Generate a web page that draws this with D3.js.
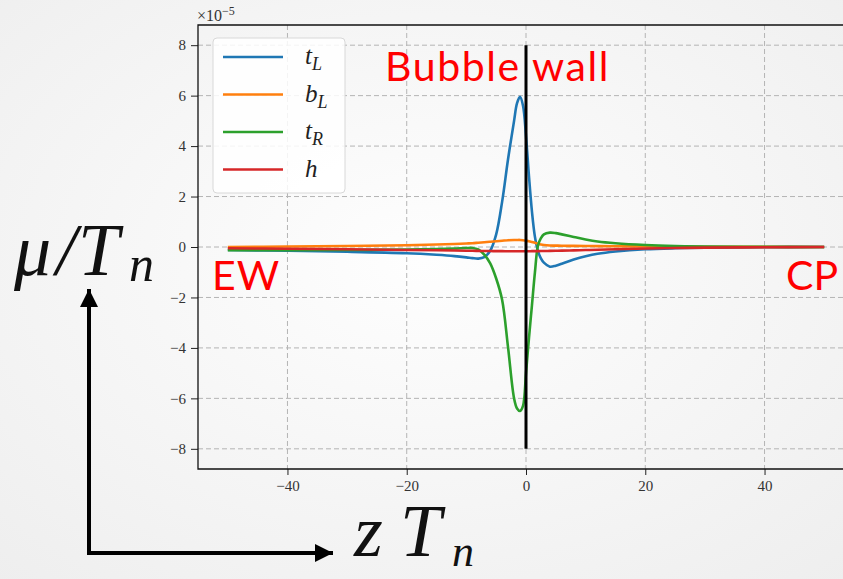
<!DOCTYPE html>
<html>
<head>
<meta charset="utf-8">
<script src="https://cdn.jsdelivr.net/npm/d3@7"></script>
<style>
  body { margin: 0; background: #f4f4f4; }
  svg { display: block; }
</style>
</head>
<body>
<div id="chart"></div>
<script>
// z T_n sample positions
const zs = [-50, -40, -30, -20, -15, -12, -10, -9, -8, -7, -6, -5, -4, -3, -2, -1.5, -1, -0.5, 0,
            0.5, 1, 1.5, 2, 2.5, 3, 4, 5, 6, 8, 10, 12, 15, 20, 25, 30, 40, 50];

// mu / T_n, in units of 1e-5
const tL = [-0.12, -0.15, -0.19, -0.25, -0.31, -0.36, -0.41, -0.44, -0.46, -0.40, -0.15, 0.5, 1.8, 3.5, 5.0, 5.7, 5.95, 5.6, 4.4,
            2.8, 1.4, 0.4, -0.15, -0.45, -0.62, -0.78, -0.74, -0.66, -0.5, -0.37, -0.27, -0.18, -0.09, -0.05, -0.03, -0.01, 0];
const bL = [0, 0.02, 0.04, 0.07, 0.1, 0.12, 0.14, 0.15, 0.17, 0.19, 0.21, 0.23, 0.25, 0.27, 0.28, 0.28, 0.28, 0.27, 0.25,
            0.23, 0.2, 0.17, 0.13, 0.1, 0.08, 0.06, 0.055, 0.05, 0.045, 0.04, 0.035, 0.03, 0.02, 0.015, 0.01, 0.005, 0];
const tR = [-0.13, -0.13, -0.12, -0.1, -0.08, -0.06, -0.04, -0.04, -0.1, -0.3, -0.65, -1.25, -2.1, -4.0, -6.0, -6.4, -6.5, -6.3, -5.0,
            -3.6, -2.3, -1.0, 0.05, 0.35, 0.5, 0.57, 0.55, 0.5, 0.4, 0.3, 0.22, 0.15, 0.08, 0.04, 0.02, 0.01, 0];
const hh = [-0.05, -0.07, -0.09, -0.12, -0.13, -0.14, -0.15, -0.15, -0.155, -0.16, -0.16, -0.165, -0.165, -0.17, -0.17, -0.17, -0.17, -0.17, -0.17,
            -0.17, -0.165, -0.165, -0.165, -0.16, -0.16, -0.155, -0.15, -0.145, -0.135, -0.12, -0.11, -0.09, -0.06, -0.04, -0.025, -0.01, 0];

const seriesNames = [["t", "L"], ["b", "L"], ["t", "R"], ["h", ""]];
const seriesValues = [tL, bL, tR, hh];
const colors = ["#1f77b4", "#ff7f0e", "#2ca02c", "#d62728"];

const xTicks = [-40, -20, 0, 20, 40];
const yTicks = [-8, -6, -4, -2, 0, 2, 4, 6, 8];
const wallRange = [-8, 8];

const W = 843, H = 579;
const svg = d3.select("#chart").append("svg").attr("width", W).attr("height", H);
const defs = svg.append("defs");

const bg = defs.append("radialGradient").attr("id", "bg")
    .attr("cx", "50%").attr("cy", "45%").attr("r", "75%");
bg.append("stop").attr("offset", "0%").attr("stop-color", "#fefefe");
bg.append("stop").attr("offset", "100%").attr("stop-color", "#eeeeee");
svg.append("rect").attr("width", W).attr("height", H).attr("fill", "url(#bg)");

const plotLeft = 198, plotTop = 25, plotBottom = 469;
const x = d3.scaleLinear().domain([-55, 55]).range([plotLeft, 854]);
const y = d3.scaleLinear().domain([-8.8, 8.8]).range([plotBottom, plotTop]);

const serif = "'Liberation Serif', 'DejaVu Serif', serif";

// grid
const grid = svg.append("g").attr("stroke", "#b4b4b4").attr("stroke-width", 1).attr("stroke-dasharray", "5,3");
grid.selectAll(".gx").data(xTicks).enter().append("line")
    .attr("x1", d => x(d)).attr("x2", d => x(d)).attr("y1", plotTop).attr("y2", plotBottom);
grid.selectAll(".gy").data(yTicks).enter().append("line")
    .attr("x1", plotLeft).attr("x2", W).attr("y1", d => y(d)).attr("y2", d => y(d));

// axes
const fmt = d => d < 0 ? "\u2212" + Math.abs(d) : d;
const xAxis = d3.axisBottom(x).tickValues(xTicks).tickSize(6).tickPadding(5).tickFormat(fmt);
const yAxis = d3.axisLeft(y).tickValues(yTicks).tickSize(7).tickPadding(5).tickFormat(fmt);

const gx = svg.append("g").attr("transform", `translate(0,${plotBottom})`).call(xAxis);
const gy = svg.append("g").attr("transform", `translate(${plotLeft},0)`).call(yAxis);
[gx, gy].forEach(g => {
  g.select(".domain").remove();
  g.attr("font-family", serif).attr("font-size", 15);
  g.selectAll("text").attr("fill", "#333");
  g.selectAll("line").attr("stroke", "#222");
});

svg.append("path")
    .attr("d", `M${W},${plotTop}H${plotLeft}V${plotBottom}H${W}`)
    .attr("fill", "none").attr("stroke", "#111").attr("stroke-width", 1.3);

// offset text
const off = svg.append("text").attr("x", 197).attr("y", 21)
    .attr("font-family", serif).attr("font-size", 16).attr("fill", "#333");
off.append("tspan").text("\u00d710");
off.append("tspan").attr("dy", -6).attr("font-size", 12).text("\u22125");

// curves
const line = d3.line()
    .x((d, i) => x(zs[i]))
    .y(d => y(d))
    .curve(d3.curveCatmullRom.alpha(0.5));

seriesValues.forEach((vals, k) => {
  svg.append("path").datum(vals)
      .attr("d", line)
      .attr("fill", "none")
      .attr("stroke", colors[k])
      .attr("stroke-width", 2.6)
      .attr("stroke-linejoin", "round");
});

// bubble wall
svg.append("line")
    .attr("x1", x(0)).attr("x2", x(0))
    .attr("y1", y(wallRange[0])).attr("y2", y(wallRange[1]))
    .attr("stroke", "#000").attr("stroke-width", 3);

// legend
const lg = svg.append("g");
lg.append("rect").attr("x", 213).attr("y", 38).attr("width", 132).attr("height", 155)
    .attr("rx", 4).attr("fill", "rgba(255,255,255,0.85)").attr("stroke", "#d8d8d8");
seriesNames.forEach((n, k) => {
  const yy = 57 + k * 37.5;
  lg.append("line").attr("x1", 223).attr("x2", 283).attr("y1", yy).attr("y2", yy)
      .attr("stroke", colors[k]).attr("stroke-width", 2.6);
  const t = lg.append("text").attr("x", 305).attr("y", yy + 7)
      .attr("font-family", serif).attr("font-style", "italic").attr("font-size", 25).attr("fill", "#222");
  t.append("tspan").text(n[0]);
  if (n[1]) t.append("tspan").attr("dy", 6).attr("font-size", 18).text(n[1]);
});

// red labels
const sans = "Lato, 'Open Sans', sans-serif";
[["Bubble wall", 385, 81, 1.6], ["EW", 212, 290, 1], ["CP", 786, 290, 0]].forEach(([s, px, py, ls]) => {
  svg.append("text").attr("x", px).attr("y", py)
      .attr("font-family", sans).attr("font-size", 41).attr("letter-spacing", ls)
      .attr("fill", "#ff0000").text(s);
});

// axis arrows
defs.append("marker").attr("id", "ah")
    .attr("viewBox", "0 0 10 10").attr("refX", 10).attr("refY", 5)
    .attr("markerWidth", 4.5).attr("markerHeight", 4.5).attr("orient", "auto")
    .append("path").attr("d", "M0,0L10,5L0,10Z").attr("fill", "#000");
defs.append("marker").attr("id", "ahs")
    .attr("viewBox", "0 0 10 10").attr("refX", 0).attr("refY", 5)
    .attr("markerWidth", 4.5).attr("markerHeight", 4.5).attr("orient", "auto")
    .append("path").attr("d", "M10,0L0,5L10,10Z").attr("fill", "#000");
svg.append("path").attr("d", "M89,289V553H333")
    .attr("fill", "none").attr("stroke", "#000").attr("stroke-width", 4)
    .attr("marker-start", "url(#ahs)").attr("marker-end", "url(#ah)");

// big axis titles
const yl = svg.append("text").attr("y", 275)
    .attr("font-family", serif).attr("font-style", "italic").attr("font-size", 74).attr("fill", "#111");
yl.append("tspan").attr("x", 14).text("\u03bc");
yl.append("tspan").attr("x", 56).text("/");
yl.append("tspan").attr("x", 78).text("T");
yl.append("tspan").attr("x", 129).attr("dy", 6).attr("font-size", 50).text("n");

const xl = svg.append("text").attr("y", 556)
    .attr("font-family", serif).attr("font-style", "italic").attr("font-size", 74).attr("fill", "#111");
xl.append("tspan").attr("x", 354).text("z");
xl.append("tspan").attr("x", 400).text("T");
xl.append("tspan").attr("x", 452).attr("dy", 10).attr("font-size", 44).text("n");
</script>
</body>
</html>
